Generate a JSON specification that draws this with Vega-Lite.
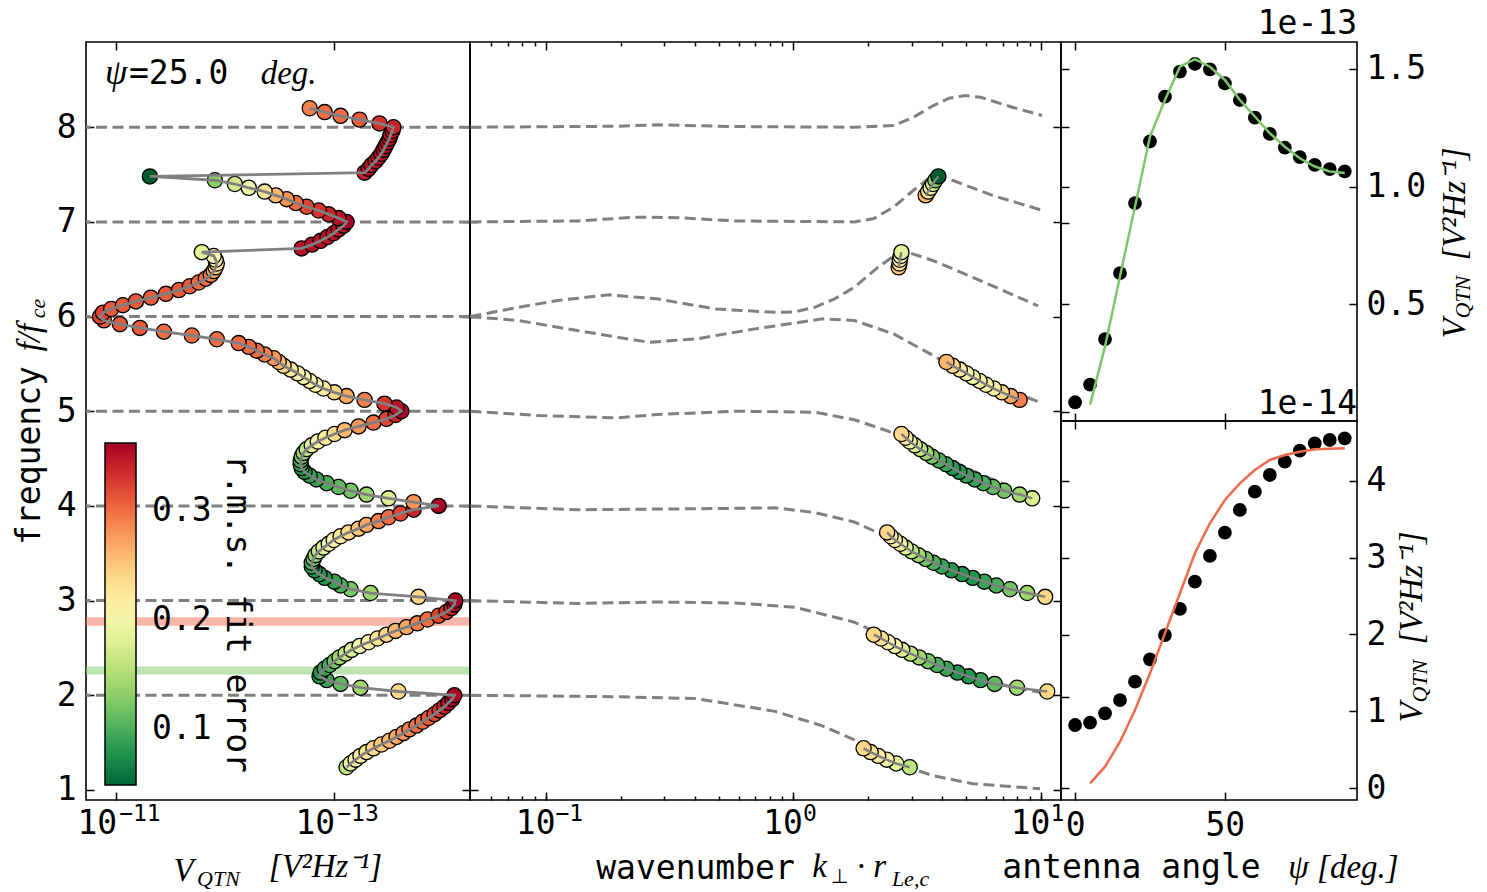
{
  "$schema": "https://vega.github.io/schema/vega-lite/v6.json",
  "background": "white",
  "padding": {"left": 12, "top": 7, "right": 4, "bottom": 0},
  "spacing": 0,
  "bounds": "flush",
  "config": {
    "view": {"stroke": "black", "strokeWidth": 1.6},
    "axis": {
      "domain": false, "grid": false, "tickColor": "black", "tickWidth": 1.5, "tickSize": -8,
      "labelFont": "DejaVu Sans Mono", "labelFontSize": 33, "labelColor": "black",
      "labelFlush": false, "labelOverlap": false, "labelBound": false,
      "titleFont": "DejaVu Sans Mono", "titleFontSize": 33, "titleFontWeight": "normal", "titleColor": "black"
    },
    "title": {"font": "DejaVu Sans Mono", "fontSize": 33, "fontWeight": "normal", "color": "black", "frame": "group"}
  },
  "datasets": {
    "qtn": [
      {"f":1.24,"V":7.62e-14,"e":0.16,"k":2.95,"b":"2"},
      {"f":1.28,"V":7.00e-14,"e":0.19,"k":2.6,"b":"2"},
      {"f":1.32,"V":6.30e-14,"e":0.21,"k":2.38,"b":"2"},
      {"f":1.36,"V":5.68e-14,"e":0.22,"k":2.2,"b":"2"},
      {"f":1.40,"V":5.00e-14,"e":0.23,"k":2.05,"b":"2"},
      {"f":1.44,"V":4.32e-14,"e":0.24,"k":1.92,"b":"2"},
      {"f":1.48,"V":3.65e-14,"e":0.25},
      {"f":1.52,"V":3.08e-14,"e":0.26},
      {"f":1.56,"V":2.65e-14,"e":0.27},
      {"f":1.60,"V":2.29e-14,"e":0.28},
      {"f":1.64,"V":2.02e-14,"e":0.29},
      {"f":1.68,"V":1.74e-14,"e":0.30},
      {"f":1.72,"V":1.53e-14,"e":0.30},
      {"f":1.76,"V":1.35e-14,"e":0.31},
      {"f":1.80,"V":1.19e-14,"e":0.32},
      {"f":1.84,"V":1.07e-14,"e":0.33},
      {"f":1.88,"V":9.65e-15,"e":0.34},
      {"f":1.92,"V":8.87e-15,"e":0.35},
      {"f":1.96,"V":8.15e-15,"e":0.36},
      {"f":2.00,"V":7.82e-15,"e":0.36},
      {"f":2.04,"V":2.55e-14,"e":0.24,"k":10.6,"b":"3"},
      {"f":2.08,"V":5.68e-14,"e":0.14,"k":8.0,"b":"3"},
      {"f":2.12,"V":8.65e-14,"e":0.11,"k":6.5,"b":"3"},
      {"f":2.16,"V":1.16e-13,"e":0.09,"k":5.7,"b":"3"},
      {"f":2.20,"V":1.35e-13,"e":0.08,"k":5.1,"b":"3"},
      {"f":2.24,"V":1.32e-13,"e":0.08,"k":4.6,"b":"3"},
      {"f":2.28,"V":1.21e-13,"e":0.09,"k":4.15,"b":"3"},
      {"f":2.32,"V":1.09e-13,"e":0.10,"k":3.8,"b":"3"},
      {"f":2.36,"V":9.82e-14,"e":0.12,"k":3.5,"b":"3"},
      {"f":2.40,"V":8.83e-14,"e":0.14,"k":3.22,"b":"3"},
      {"f":2.44,"V":7.78e-14,"e":0.16,"k":2.97,"b":"3"},
      {"f":2.48,"V":6.85e-14,"e":0.18,"k":2.75,"b":"3"},
      {"f":2.52,"V":5.79e-14,"e":0.20,"k":2.57,"b":"3"},
      {"f":2.56,"V":4.79e-14,"e":0.21,"k":2.41,"b":"3"},
      {"f":2.60,"V":3.96e-14,"e":0.23,"k":2.26,"b":"3"},
      {"f":2.64,"V":3.28e-14,"e":0.24,"k":2.11,"b":"3"},
      {"f":2.68,"V":2.71e-14,"e":0.26},
      {"f":2.72,"V":2.15e-14,"e":0.27},
      {"f":2.76,"V":1.71e-14,"e":0.29},
      {"f":2.80,"V":1.38e-14,"e":0.30},
      {"f":2.84,"V":1.09e-14,"e":0.32},
      {"f":2.88,"V":9.25e-15,"e":0.33},
      {"f":2.92,"V":8.32e-15,"e":0.34},
      {"f":2.96,"V":7.82e-15,"e":0.35},
      {"f":3.00,"V":7.66e-15,"e":0.36},
      {"f":3.04,"V":1.67e-14,"e":0.24,"k":10.4,"b":"4"},
      {"f":3.08,"V":4.59e-14,"e":0.14,"k":8.8,"b":"4"},
      {"f":3.12,"V":7.00e-14,"e":0.12,"k":7.5,"b":"4"},
      {"f":3.16,"V":8.65e-14,"e":0.10,"k":6.6,"b":"4"},
      {"f":3.20,"V":9.86e-14,"e":0.09,"k":5.9,"b":"4"},
      {"f":3.24,"V":1.21e-13,"e":0.08,"k":5.3,"b":"4"},
      {"f":3.28,"V":1.35e-13,"e":0.08,"k":4.8,"b":"4"},
      {"f":3.32,"V":1.50e-13,"e":0.08,"k":4.35,"b":"4"},
      {"f":3.36,"V":1.59e-13,"e":0.09,"k":3.98,"b":"4"},
      {"f":3.40,"V":1.59e-13,"e":0.10,"k":3.68,"b":"4"},
      {"f":3.44,"V":1.53e-13,"e":0.12,"k":3.42,"b":"4"},
      {"f":3.48,"V":1.47e-13,"e":0.14,"k":3.2,"b":"4"},
      {"f":3.52,"V":1.37e-13,"e":0.16,"k":3.0,"b":"4"},
      {"f":3.56,"V":1.24e-13,"e":0.18,"k":2.84,"b":"4"},
      {"f":3.60,"V":1.11e-13,"e":0.20,"k":2.7,"b":"4"},
      {"f":3.64,"V":1.00e-13,"e":0.21,"k":2.57,"b":"4"},
      {"f":3.68,"V":8.65e-14,"e":0.22,"k":2.47,"b":"4"},
      {"f":3.72,"V":7.31e-14,"e":0.24,"k":2.39,"b":"4"},
      {"f":3.76,"V":5.92e-14,"e":0.25},
      {"f":3.80,"V":5.00e-14,"e":0.27},
      {"f":3.84,"V":3.88e-14,"e":0.29},
      {"f":3.88,"V":3.14e-14,"e":0.30},
      {"f":3.92,"V":2.44e-14,"e":0.32},
      {"f":3.96,"V":1.85e-14,"e":0.34},
      {"f":4.00,"V":1.09e-14,"e":0.36},
      {"f":4.04,"V":1.85e-14,"e":0.28},
      {"f":4.08,"V":3.14e-14,"e":0.18,"k":9.22,"b":"5"},
      {"f":4.12,"V":5.00e-14,"e":0.14,"k":8.2,"b":"5"},
      {"f":4.16,"V":7.00e-14,"e":0.12,"k":7.1,"b":"5"},
      {"f":4.20,"V":9.02e-14,"e":0.11,"k":6.4,"b":"5"},
      {"f":4.24,"V":1.16e-13,"e":0.10,"k":5.85,"b":"5"},
      {"f":4.28,"V":1.44e-13,"e":0.09,"k":5.4,"b":"5"},
      {"f":4.32,"V":1.66e-13,"e":0.09,"k":5.0,"b":"5"},
      {"f":4.36,"V":1.85e-13,"e":0.08,"k":4.68,"b":"5"},
      {"f":4.40,"V":1.97e-13,"e":0.08,"k":4.4,"b":"5"},
      {"f":4.44,"V":2.01e-13,"e":0.09,"k":4.13,"b":"5"},
      {"f":4.48,"V":2.01e-13,"e":0.10,"k":3.87,"b":"5"},
      {"f":4.52,"V":1.97e-13,"e":0.12,"k":3.63,"b":"5"},
      {"f":4.56,"V":1.89e-13,"e":0.14,"k":3.44,"b":"5"},
      {"f":4.60,"V":1.77e-13,"e":0.16,"k":3.25,"b":"5"},
      {"f":4.64,"V":1.59e-13,"e":0.18,"k":3.09,"b":"5"},
      {"f":4.68,"V":1.40e-13,"e":0.20,"k":2.95,"b":"5"},
      {"f":4.72,"V":1.19e-13,"e":0.22,"k":2.84,"b":"5"},
      {"f":4.76,"V":9.82e-14,"e":0.24,"k":2.73,"b":"5"},
      {"f":4.80,"V":7.94e-14,"e":0.26},
      {"f":4.84,"V":5.92e-14,"e":0.28},
      {"f":4.88,"V":4.32e-14,"e":0.30},
      {"f":4.92,"V":3.28e-14,"e":0.32},
      {"f":4.96,"V":2.71e-14,"e":0.34},
      {"f":5.00,"V":2.39e-14,"e":0.36},
      {"f":5.04,"V":2.65e-14,"e":0.35},
      {"f":5.08,"V":3.42e-14,"e":0.33},
      {"f":5.12,"V":5.21e-14,"e":0.29,"k":8.2,"b":"6b"},
      {"f":5.16,"V":7.62e-14,"e":0.27,"k":7.55,"b":"6b"},
      {"f":5.20,"V":9.86e-14,"e":0.24,"k":6.95,"b":"6b"},
      {"f":5.24,"V":1.24e-13,"e":0.22,"k":6.45,"b":"6b"},
      {"f":5.28,"V":1.47e-13,"e":0.21,"k":6.0,"b":"6b"},
      {"f":5.32,"V":1.66e-13,"e":0.20,"k":5.65,"b":"6b"},
      {"f":5.36,"V":1.89e-13,"e":0.20,"k":5.3,"b":"6b"},
      {"f":5.40,"V":2.14e-13,"e":0.21,"k":5.0,"b":"6b"},
      {"f":5.44,"V":2.48e-13,"e":0.22,"k":4.7,"b":"6b"},
      {"f":5.48,"V":2.88e-13,"e":0.24,"k":4.4,"b":"6b"},
      {"f":5.52,"V":3.19e-13,"e":0.26,"k":4.15,"b":"6b"},
      {"f":5.56,"V":3.55e-13,"e":0.28},
      {"f":5.60,"V":4.30e-13,"e":0.29},
      {"f":5.64,"V":5.08e-13,"e":0.30},
      {"f":5.68,"V":6.01e-13,"e":0.30},
      {"f":5.72,"V":7.43e-13,"e":0.30},
      {"f":5.76,"V":1.18e-12,"e":0.30},
      {"f":5.80,"V":2.00e-12,"e":0.30},
      {"f":5.84,"V":3.61e-12,"e":0.30},
      {"f":5.88,"V":5.99e-12,"e":0.31},
      {"f":5.92,"V":9.14e-12,"e":0.31},
      {"f":5.96,"V":1.28e-11,"e":0.31},
      {"f":6.00,"V":1.39e-11,"e":0.32},
      {"f":6.04,"V":1.31e-11,"e":0.32},
      {"f":6.08,"V":1.10e-11,"e":0.31},
      {"f":6.12,"V":8.58e-12,"e":0.31},
      {"f":6.16,"V":6.52e-12,"e":0.31},
      {"f":6.20,"V":4.75e-12,"e":0.31},
      {"f":6.24,"V":3.46e-12,"e":0.31},
      {"f":6.28,"V":2.63e-12,"e":0.31},
      {"f":6.32,"V":2.09e-12,"e":0.31},
      {"f":6.36,"V":1.73e-12,"e":0.30},
      {"f":6.40,"V":1.49e-12,"e":0.30},
      {"f":6.44,"V":1.34e-12,"e":0.29},
      {"f":6.48,"V":1.26e-12,"e":0.27},
      {"f":6.52,"V":1.21e-12,"e":0.25,"k":2.66,"b":"6a"},
      {"f":6.56,"V":1.18e-12,"e":0.23,"k":2.68,"b":"6a"},
      {"f":6.60,"V":1.21e-12,"e":0.22,"k":2.69,"b":"6a"},
      {"f":6.64,"V":1.26e-12,"e":0.21,"k":2.71,"b":"6a"},
      {"f":6.68,"V":1.62e-12,"e":0.185,"k":2.73,"b":"6a"},
      {"f":6.72,"V":1.97e-13,"e":0.35},
      {"f":6.76,"V":1.58e-13,"e":0.35},
      {"f":6.80,"V":1.32e-13,"e":0.35},
      {"f":6.84,"V":1.14e-13,"e":0.35},
      {"f":6.88,"V":1.00e-13,"e":0.35},
      {"f":6.92,"V":9.02e-14,"e":0.35},
      {"f":6.96,"V":8.11e-14,"e":0.35},
      {"f":7.00,"V":7.62e-14,"e":0.36},
      {"f":7.04,"V":9.02e-14,"e":0.35},
      {"f":7.08,"V":1.11e-13,"e":0.34},
      {"f":7.12,"V":1.37e-13,"e":0.33},
      {"f":7.16,"V":1.77e-13,"e":0.32},
      {"f":7.20,"V":2.23e-13,"e":0.30},
      {"f":7.24,"V":2.70e-13,"e":0.28},
      {"f":7.28,"V":3.40e-13,"e":0.26,"k":3.42,"b":"7"},
      {"f":7.32,"V":4.30e-13,"e":0.23,"k":3.5,"b":"7"},
      {"f":7.36,"V":6.01e-13,"e":0.20,"k":3.58,"b":"7"},
      {"f":7.40,"V":8.07e-13,"e":0.17,"k":3.66,"b":"7"},
      {"f":7.44,"V":1.23e-12,"e":0.13,"k":3.74,"b":"7"},
      {"f":7.48,"V":4.85e-12,"e":0.04,"k":3.85,"b":"7"},
      {"f":7.52,"V":5.21e-14,"e":0.34},
      {"f":7.56,"V":4.79e-14,"e":0.35},
      {"f":7.60,"V":4.50e-14,"e":0.35},
      {"f":7.64,"V":4.13e-14,"e":0.35},
      {"f":7.68,"V":3.88e-14,"e":0.35},
      {"f":7.72,"V":3.65e-14,"e":0.35},
      {"f":7.76,"V":3.49e-14,"e":0.35},
      {"f":7.80,"V":3.35e-14,"e":0.35},
      {"f":7.84,"V":3.21e-14,"e":0.35},
      {"f":7.88,"V":3.08e-14,"e":0.35},
      {"f":7.92,"V":3.01e-14,"e":0.35},
      {"f":7.96,"V":2.89e-14,"e":0.35},
      {"f":8.00,"V":2.83e-14,"e":0.34},
      {"f":8.04,"V":3.80e-14,"e":0.33},
      {"f":8.08,"V":5.79e-14,"e":0.31},
      {"f":8.12,"V":8.65e-14,"e":0.30},
      {"f":8.16,"V":1.21e-13,"e":0.30},
      {"f":8.20,"V":1.66e-13,"e":0.29}
    ],
    "disp": [
      {"n":"2","k":0.0495,"f":2.0},{"n":"2","k":0.194,"f":1.985},{"n":"2","k":0.405,"f":1.965},{"n":"2","k":0.843,"f":1.83},{"n":"2","k":1.3,"f":1.68},{"n":"2","k":1.762,"f":1.53},{"n":"2","k":2.3,"f":1.36},{"n":"2","k":2.97,"f":1.23},{"n":"2","k":3.673,"f":1.15},{"n":"2","k":5.297,"f":1.066},{"n":"2","k":9.908,"f":1.013},
      {"n":"3","k":0.0495,"f":3.0},{"n":"3","k":0.134,"f":2.97},{"n":"3","k":0.28,"f":2.985},{"n":"3","k":0.583,"f":2.975},{"n":"3","k":1.014,"f":2.93},{"n":"3","k":1.762,"f":2.772},{"n":"3","k":2.541,"f":2.58},{"n":"3","k":3.673,"f":2.368},{"n":"3","k":5.297,"f":2.19},{"n":"3","k":7.656,"f":2.087},{"n":"3","k":10.67,"f":2.017},
      {"n":"4","k":0.0495,"f":4.0},{"n":"4","k":0.134,"f":3.96},{"n":"4","k":0.405,"f":3.97},{"n":"4","k":0.843,"f":3.98},{"n":"4","k":1.219,"f":3.93},{"n":"4","k":1.762,"f":3.83},{"n":"4","k":2.541,"f":3.64},{"n":"4","k":3.673,"f":3.43},{"n":"4","k":5.297,"f":3.25},{"n":"4","k":7.656,"f":3.11},{"n":"4","k":10.67,"f":3.03},
      {"n":"5","k":0.0495,"f":5.0},{"n":"5","k":0.0929,"f":4.955},{"n":"5","k":0.194,"f":4.93},{"n":"5","k":0.28,"f":4.965},{"n":"5","k":0.583,"f":5.0},{"n":"5","k":1.219,"f":4.99},{"n":"5","k":1.762,"f":4.91},{"n":"5","k":2.541,"f":4.77},{"n":"5","k":3.673,"f":4.56},{"n":"5","k":5.297,"f":4.37},{"n":"5","k":9.204,"f":4.1},
      {"n":"6b","k":0.0495,"f":6.0},{"n":"6b","k":0.0773,"f":5.958},{"n":"6b","k":0.134,"f":5.852},{"n":"6b","k":0.26,"f":5.728},{"n":"6b","k":0.405,"f":5.764},{"n":"6b","k":0.701,"f":5.87},{"n":"6b","k":1.312,"f":5.976},{"n":"6b","k":1.762,"f":5.958},{"n":"6b","k":2.541,"f":5.817},{"n":"6b","k":3.673,"f":5.588},{"n":"6b","k":5.297,"f":5.359},{"n":"6b","k":9.908,"f":5.095},
      {"n":"6a","k":0.0495,"f":6.0},{"n":"6a","k":0.0773,"f":6.098},{"n":"6a","k":0.1116,"f":6.17},{"n":"6a","k":0.18,"f":6.23},{"n":"6a","k":0.28,"f":6.187},{"n":"6a","k":0.485,"f":6.08},{"n":"6a","k":0.843,"f":6.045},{"n":"6a","k":1.014,"f":6.05},{"n":"6a","k":1.219,"f":6.098},{"n":"6a","k":1.465,"f":6.187},{"n":"6a","k":1.762,"f":6.31},{"n":"6a","k":2.193,"f":6.52},{"n":"6a","k":2.735,"f":6.697},{"n":"6a","k":3.055,"f":6.66},{"n":"6a","k":3.673,"f":6.59},{"n":"6a","k":5.297,"f":6.415},{"n":"6a","k":9.727,"f":6.114},
      {"n":"7","k":0.0495,"f":7.0},{"n":"7","k":0.134,"f":7.01},{"n":"7","k":0.233,"f":7.05},{"n":"7","k":0.337,"f":7.045},{"n":"7","k":0.583,"f":7.01},{"n":"7","k":1.762,"f":7.0},{"n":"7","k":2.113,"f":7.035},{"n":"7","k":2.541,"f":7.158},{"n":"7","k":3.055,"f":7.334},{"n":"7","k":3.45,"f":7.44},{"n":"7","k":3.811,"f":7.472},{"n":"7","k":4.416,"f":7.437},{"n":"7","k":6.368,"f":7.28},{"n":"7","k":10.09,"f":7.123},
      {"n":"8","k":0.0495,"f":8.0},{"n":"8","k":0.194,"f":8.01},{"n":"8","k":0.28,"f":8.025},{"n":"8","k":0.583,"f":8.007},{"n":"8","k":1.762,"f":8.0},{"n":"8","k":2.541,"f":8.018},{"n":"8","k":3.055,"f":8.106},{"n":"8","k":3.673,"f":8.229},{"n":"8","k":4.25,"f":8.306},{"n":"8","k":4.932,"f":8.334},{"n":"8","k":5.7,"f":8.317},{"n":"8","k":7.656,"f":8.211},{"n":"8","k":10.09,"f":8.124}
    ],
    "ang": [
      {"deg":0,"Vt":8.5e-15,"Vb":8.23e-15},
      {"deg":5,"Vt":1.60e-14,"Vb":8.53e-15,"Mt":7.5e-15,"Mb":6.5e-16},
      {"deg":10,"Vt":3.53e-14,"Vb":9.75e-15,"Mt":3.22e-14,"Mb":2.81e-15},
      {"deg":15,"Vt":6.33e-14,"Vb":1.148e-14,"Mt":6.19e-14,"Mb":6.06e-15},
      {"deg":20,"Vt":9.30e-14,"Vb":1.386e-14,"Mt":9.15e-14,"Mb":1.018e-14},
      {"deg":25,"Vt":1.191e-13,"Vb":1.677e-14,"Mt":1.212e-13,"Mb":1.495e-14},
      {"deg":30,"Vt":1.381e-13,"Vb":1.993e-14,"Mt":1.367e-13,"Mb":2.016e-14},
      {"deg":35,"Vt":1.487e-13,"Vb":2.332e-14,"Mt":1.508e-13,"Mb":2.536e-14},
      {"deg":40,"Vt":1.520e-13,"Vb":2.687e-14,"Mt":1.540e-13,"Mb":3.056e-14},
      {"deg":45,"Vt":1.497e-13,"Vb":3.021e-14,"Mt":1.508e-13,"Mb":3.446e-14},
      {"deg":50,"Vt":1.438e-13,"Vb":3.324e-14,"Mt":1.452e-13,"Mb":3.749e-14},
      {"deg":55,"Vt":1.367e-13,"Vb":3.619e-14,"Mt":1.367e-13,"Mb":3.966e-14},
      {"deg":60,"Vt":1.292e-13,"Vb":3.857e-14,"Mt":1.297e-13,"Mb":4.139e-14},
      {"deg":65,"Vt":1.223e-13,"Vb":4.074e-14,"Mt":1.226e-13,"Mb":4.269e-14},
      {"deg":70,"Vt":1.165e-13,"Vb":4.247e-14,"Mt":1.169e-13,"Mb":4.334e-14},
      {"deg":75,"Vt":1.125e-13,"Vb":4.390e-14,"Mt":1.120e-13,"Mb":4.377e-14},
      {"deg":80,"Vt":1.092e-13,"Vb":4.486e-14,"Mt":1.085e-13,"Mb":4.408e-14},
      {"deg":85,"Vt":1.074e-13,"Vb":4.529e-14,"Mt":1.064e-13,"Mb":4.416e-14},
      {"deg":90,"Vt":1.064e-13,"Vb":4.551e-14,"Mt":1.057e-13,"Mb":4.421e-14}
    ]
  },
  "resolve": {"scale": {"color": "independent"}},
  "hconcat": [
    {
      "width": 384, "height": 758,
      "resolve": {"axis": {"x": "independent", "y": "independent"}},
      "layer": [
        {
          "data": {"values": [{"lo": 2.735, "hi": 2.825}]},
          "mark": {"type": "rect", "color": "#f07a5e", "opacity": 0.55},
          "encoding": {
            "y": {"field": "lo", "type": "quantitative", "scale": {"domain": [0.894, 8.9], "nice": false, "zero": false}, "axis": null},
            "y2": {"field": "hi"}
          }
        },
        {
          "data": {"values": [{"lo": 2.22, "hi": 2.305}]},
          "mark": {"type": "rect", "color": "#86cc73", "opacity": 0.55},
          "encoding": {
            "y": {"field": "lo", "type": "quantitative", "axis": null},
            "y2": {"field": "hi"}
          }
        },
        {
          "data": {"values": [{"f": 2}, {"f": 3}, {"f": 4}, {"f": 5}, {"f": 6}, {"f": 7}, {"f": 8}]},
          "mark": {"type": "rule", "color": "#808080", "strokeWidth": 3, "strokeDash": [11, 5.5]},
          "encoding": {"y": {"field": "f", "type": "quantitative", "axis": null}}
        },
        {
          "data": {"name": "qtn"},
          "mark": {"type": "circle", "size": 230, "opacity": 1, "stroke": "black", "strokeWidth": 1.3},
          "encoding": {
            "x": {"field": "V", "type": "quantitative",
                  "scale": {"type": "log", "domain": [5.62e-15, 1.87e-11], "reverse": true, "nice": false},
                  "axis": {"orient": "top", "values": [1e-11, 1e-13], "labels": false,
                           "title": "[V²Hz⁻¹]", "titleFont": "Liberation Serif", "titleFontStyle": "italic",
                           "titleX": 239, "titleY": 824, "titleAlign": "center", "titleBaseline": "middle"}},
            "y": {"field": "f", "type": "quantitative",
                  "axis": {"orient": "right", "values": [1, 2, 3, 4, 5, 6, 7, 8], "labels": false, "title": null}},
            "color": {"field": "e", "type": "quantitative",
                      "scale": {"domain": [0.0486, 0.362], "scheme": "redyellowgreen", "reverse": true},
                      "legend": {
                        "orient": "none", "legendX": 19, "legendY": 401, "direction": "vertical",
                        "gradientLength": 342, "gradientThickness": 31,
                        "gradientStrokeColor": "black", "gradientStrokeWidth": 1.5,
                        "values": [0.1, 0.2, 0.3], "format": ".1f",
                        "labelFont": "DejaVu Sans Mono", "labelFontSize": 33, "labelColor": "black",
                        "labelOffset": 16, "labelOverlap": false,
                        "title": "r.m.s. fit error", "titleOrient": "right", "titleAnchor": "middle", "titleLimit": 600,
                        "titleFont": "DejaVu Sans Mono", "titleFontSize": 33, "titleFontWeight": "normal",
                        "titleColor": "black", "titlePadding": 8, "padding": 0
                      }}
          }
        },
        {
          "data": {"name": "qtn"},
          "mark": {"type": "line", "color": "#808080", "strokeWidth": 2.8},
          "encoding": {
            "x": {"field": "V", "type": "quantitative",
                  "axis": {"orient": "bottom", "values": [1e-11, 1e-13],
                           "labelExpr": "'10'", "labelAlign": "right", "labelOffset": 1, "labelPadding": 15,
                           "title": "V", "titleFont": "Liberation Serif", "titleFontStyle": "italic",
                           "titleX": 97, "titleY": 70, "titleAlign": "center", "titleBaseline": "middle"}},
            "y": {"field": "f", "type": "quantitative",
                  "axis": {"orient": "left", "values": [1, 2, 3, 4, 5, 6, 7, 8], "labelPadding": 18,
                           "title": "frequency", "titleAngle": 270, "titleX": -57, "titleY": 413,
                           "titleAlign": "center", "titleBaseline": "middle"}},
            "order": {"field": "f", "type": "quantitative"}
          }
        },
        {
          "data": {"values": [{}]},
          "mark": {"type": "text", "font": "Liberation Serif", "fontStyle": "italic", "fontSize": 36, "align": "left", "baseline": "alphabetic", "color": "black"},
          "encoding": {
            "x": {"datum": 1.25e-11, "type": "quantitative",
                  "axis": {"orient": "bottom", "ticks": false, "tickSize": 0, "values": [1e-11, 1e-13],
                           "labelExpr": "datum.value > 1e-12 ? '−11' : '−13'", "labelFontSize": 23,
                           "labelAlign": "left", "labelOffset": 3, "labelPadding": 2,
                           "title": "QTN", "titleFont": "Liberation Serif", "titleFontStyle": "italic", "titleFontSize": 22,
                           "titleX": 132, "titleY": 78, "titleAlign": "center", "titleBaseline": "middle"}},
            "y": {"datum": 8.458, "type": "quantitative",
                  "axis": {"orient": "left", "ticks": false, "labels": false,
                           "title": "f/f", "titleFont": "Liberation Serif", "titleFontStyle": "italic",
                           "titleAngle": 270, "titleX": -57, "titleY": 295, "titleAlign": "center", "titleBaseline": "middle"}},
            "text": {"value": "ψ"}
          }
        },
        {
          "data": {"values": [{}]},
          "mark": {"type": "text", "font": "DejaVu Sans Mono", "fontSize": 33, "align": "left", "baseline": "alphabetic", "color": "black"},
          "encoding": {
            "x": {"datum": 7.55e-12, "type": "quantitative", "axis": null},
            "y": {"datum": 8.458, "type": "quantitative",
                  "axis": {"orient": "left", "ticks": false, "labels": false,
                           "title": "ce", "titleFont": "Liberation Serif", "titleFontStyle": "italic", "titleFontSize": 22,
                           "titleAngle": 270, "titleX": -49, "titleY": 266, "titleAlign": "center", "titleBaseline": "middle"}},
            "text": {"value": "=25.0"}
          }
        },
        {
          "data": {"values": [{}]},
          "mark": {"type": "text", "font": "Liberation Serif", "fontStyle": "italic", "fontSize": 33, "align": "left", "baseline": "alphabetic", "color": "black"},
          "encoding": {
            "x": {"datum": 4.67e-13, "type": "quantitative", "axis": null},
            "y": {"datum": 8.458, "type": "quantitative", "axis": null},
            "text": {"value": "deg."}
          }
        }
      ]
    },
    {
      "width": 591, "height": 758,
      "resolve": {"axis": {"x": "independent", "y": "independent"}},
      "layer": [
        {
          "data": {"name": "disp"},
          "transform": [{"filter": {"field": "n", "oneOf": ["2", "3", "4", "5"]}}],
          "mark": {"type": "line", "color": "#808080", "strokeWidth": 3, "strokeDash": [11, 5.5], "clip": true},
          "encoding": {
            "x": {"field": "k", "type": "quantitative",
                  "scale": {"type": "log", "domain": [0.0493, 12.05], "nice": false},
                  "axis": {"orient": "bottom", "values": [0.1, 1, 10],
                           "labelExpr": "'10'", "labelAlign": "right", "labelOffset": 9, "labelPadding": 15,
                           "title": "wavenumber", "titleX": 225, "titleY": 68, "titleAlign": "center", "titleBaseline": "middle"}},
            "y": {"field": "f", "type": "quantitative",
                  "scale": {"domain": [0.894, 8.9], "nice": false, "zero": false},
                  "axis": {"orient": "left", "values": [1, 2, 3, 4, 5, 6, 7, 8], "labels": false, "title": null}},
            "detail": {"field": "n", "type": "nominal"}
          }
        },
        {
          "data": {"name": "disp"},
          "transform": [{"filter": {"field": "n", "oneOf": ["6a", "6b", "7", "8"]}}],
          "mark": {"type": "line", "color": "#808080", "strokeWidth": 3, "strokeDash": [11, 5.5], "clip": true},
          "encoding": {
            "x": {"field": "k", "type": "quantitative",
                  "axis": {"orient": "top", "values": [0.1, 1, 10], "labels": false,
                           "title": "Le,c", "titleFont": "Liberation Serif", "titleFontStyle": "italic", "titleFontSize": 22,
                           "titleX": 440, "titleY": 836, "titleAlign": "center", "titleBaseline": "middle"}},
            "y": {"field": "f", "type": "quantitative",
                  "axis": {"orient": "left", "ticks": false, "labels": false,
                           "title": "· r", "titleFont": "Liberation Serif", "titleFontStyle": "italic",
                           "titleAngle": 0, "titleX": 401, "titleY": 824, "titleAlign": "center", "titleBaseline": "middle"}},
            "detail": {"field": "n", "type": "nominal"}
          }
        },
        {
          "data": {"name": "qtn"},
          "transform": [{"filter": "isValid(datum.k)"}],
          "mark": {"type": "circle", "size": 230, "opacity": 1, "stroke": "black", "strokeWidth": 1.3},
          "encoding": {
            "x": {"field": "k", "type": "quantitative",
                  "axis": {"orient": "bottom", "values": [0.06, 0.07, 0.08, 0.09, 0.1, 0.2, 0.3, 0.4, 0.5, 0.6, 0.7, 0.8, 0.9, 1, 2, 3, 4, 5, 6, 7, 8, 9, 10],
                           "tickSize": -4,
                           "labelExpr": "datum.value == 0.1 ? '−1' : datum.value == 1 ? '0' : datum.value == 10 ? '1' : ''",
                           "labelFontSize": 23, "labelAlign": "left", "labelOffset": 9, "labelPadding": 6,
                           "title": "k", "titleFont": "Liberation Serif", "titleFontStyle": "italic",
                           "titleX": 349, "titleY": 66, "titleAlign": "center", "titleBaseline": "middle"}},
            "y": {"field": "f", "type": "quantitative",
                  "axis": {"orient": "right", "values": [1, 2, 3, 4, 5, 6, 7, 8], "labels": false, "title": null}},
            "color": {"field": "e", "type": "quantitative",
                      "scale": {"domain": [0.0486, 0.362], "scheme": "redyellowgreen", "reverse": true},
                      "legend": null}
          }
        },
        {
          "data": {"name": "qtn"},
          "transform": [{"filter": "isValid(datum.k)"}],
          "mark": {"type": "line", "color": "#808080", "strokeWidth": 2.5},
          "encoding": {
            "x": {"field": "k", "type": "quantitative",
                  "axis": {"orient": "top", "values": [0.06, 0.07, 0.08, 0.09, 0.2, 0.3, 0.4, 0.5, 0.6, 0.7, 0.8, 0.9, 2, 3, 4, 5, 6, 7, 8, 9],
                           "labels": false, "tickSize": -4,
                           "title": "⊥", "titleFont": "DejaVu Sans", "titleFontSize": 20,
                           "titleX": 369, "titleY": 834, "titleAlign": "center", "titleBaseline": "middle"}},
            "y": {"field": "f", "type": "quantitative", "axis": null},
            "detail": {"field": "b", "type": "nominal"},
            "order": {"field": "f", "type": "quantitative"}
          }
        }
      ]
    },
    {
      "spacing": 0,
      "bounds": "flush",
      "vconcat": [
        {
          "width": 296, "height": 379,
          "title": {"text": "1e-13", "anchor": "end", "orient": "top", "offset": -26, "baseline": "alphabetic"},
          "resolve": {"axis": {"x": "independent", "y": "independent"}},
          "layer": [
            {
              "data": {"name": "ang"},
              "mark": {"type": "circle", "size": 190, "color": "black", "opacity": 1},
              "encoding": {
                "x": {"field": "deg", "type": "quantitative",
                      "scale": {"domain": [-4.7, 94.1], "nice": false, "zero": false},
                      "axis": {"orient": "bottom", "values": [0, 50], "labels": false, "title": null}},
                "y": {"field": "Vt", "type": "quantitative",
                      "scale": {"domain": [5.5e-16, 1.613e-13], "nice": false, "zero": false},
                      "axis": {"orient": "right", "values": [5e-14, 1e-13, 1.5e-13],
                               "labelExpr": "format(datum.value * 1e13, '.1f')", "labelPadding": 17,
                               "title": "V\u00a0\u00a0\u00a0\u00a0\u00a0\u00a0\u00a0[V²Hz⁻¹]", "titleFont": "Liberation Serif", "titleFontStyle": "italic",
                               "titleAngle": 270, "titleAlign": "left", "titleBaseline": "middle", "titleX": 97, "titleY": 296}}
              }
            },
            {
              "data": {"name": "ang"},
              "mark": {"type": "line", "color": "#7dc66b", "strokeWidth": 2.5},
              "encoding": {
                "x": {"field": "deg", "type": "quantitative",
                      "axis": {"orient": "top", "values": [0, 50], "labels": false, "title": null}},
                "y": {"field": "Mt", "type": "quantitative",
                      "axis": {"orient": "left", "values": [1.5e-13, 1.254e-13, 1e-13, 8.46e-14, 5e-14, 4.5e-15], "labels": false,
                               "title": "QTN", "titleFont": "Liberation Serif", "titleFontStyle": "italic", "titleFontSize": 22,
                               "titleAngle": 270, "titleAlign": "left", "titleBaseline": "middle", "titleX": 401, "titleY": 276}}
              }
            }
          ]
        },
        {
          "width": 296, "height": 379,
          "title": {"text": "1e-14", "anchor": "end", "orient": "top", "offset": -27, "baseline": "alphabetic"},
          "resolve": {"axis": {"x": "independent", "y": "independent"}},
          "layer": [
            {
              "data": {"name": "ang"},
              "mark": {"type": "circle", "size": 190, "color": "black", "opacity": 1},
              "encoding": {
                "x": {"field": "deg", "type": "quantitative",
                      "scale": {"domain": [-4.7, 94.1], "nice": false, "zero": false},
                      "axis": {"orient": "bottom", "values": [0, 50], "labelPadding": 17,
                               "title": "antenna angle", "titleX": 70, "titleY": 67, "titleAlign": "center", "titleBaseline": "middle"}},
                "y": {"field": "Vb", "type": "quantitative",
                      "scale": {"domain": [-1.52e-15, 4.776e-14], "nice": false, "zero": false},
                      "axis": {"orient": "right", "values": [0, 1e-14, 2e-14, 3e-14, 4e-14],
                               "labelExpr": "format(datum.value * 1e14, '.0f')", "labelPadding": 17,
                               "title": "V\u00a0\u00a0\u00a0\u00a0\u00a0\u00a0\u00a0[V²Hz⁻¹]", "titleFont": "Liberation Serif", "titleFontStyle": "italic",
                               "titleAngle": 270, "titleAlign": "left", "titleBaseline": "middle", "titleX": 54, "titleY": 301}}
              }
            },
            {
              "data": {"name": "ang"},
              "mark": {"type": "line", "color": "#ee6a4c", "strokeWidth": 2.5},
              "encoding": {
                "x": {"field": "deg", "type": "quantitative",
                      "axis": {"orient": "top", "values": [0, 50], "labels": false,
                               "title": "ψ [deg.]", "titleFont": "Liberation Serif", "titleFontStyle": "italic",
                               "titleX": 282, "titleY": 446, "titleAlign": "center", "titleBaseline": "middle"}},
                "y": {"field": "Mb", "type": "quantitative",
                      "axis": {"orient": "left", "values": [4e-14, 3.654e-14, 2.99e-14, 1.995e-14, 1.19e-14, 0], "labels": false,
                               "title": "QTN", "titleFont": "Liberation Serif", "titleFontStyle": "italic", "titleFontSize": 22,
                               "titleAngle": 270, "titleAlign": "left", "titleBaseline": "middle", "titleX": 358, "titleY": 281}}
              }
            }
          ]
        }
      ]
    }
  ]
}
